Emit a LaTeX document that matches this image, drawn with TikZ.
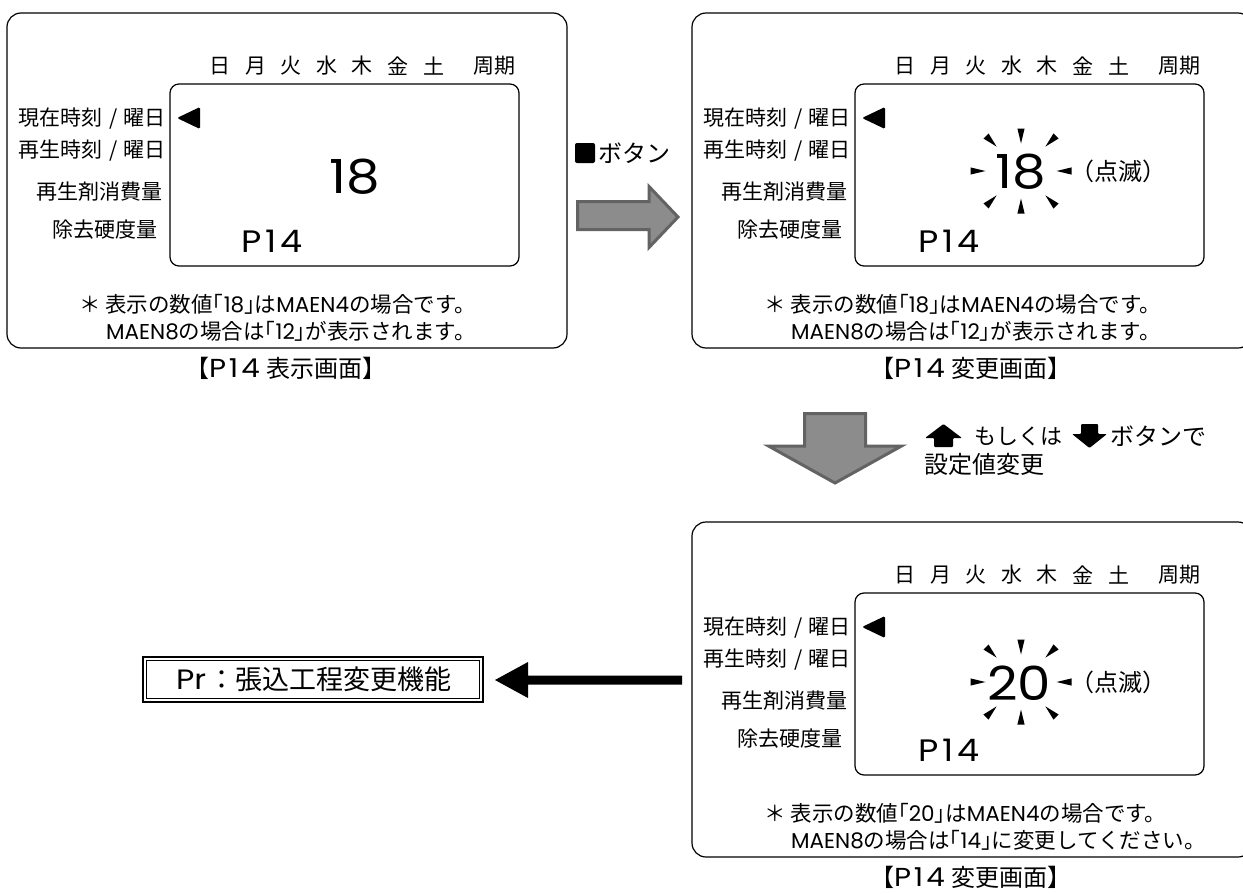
\documentclass[tikz,border=0pt]{standalone}
\usepackage{graphicx}
\usepackage{fontspec}
\setmainfont{Noto Sans CJK JP}
\newfontfamily\lat{Poppins}
\definecolor{arrowfill}{HTML}{8C8C8C}
\definecolor{arrowedge}{HTML}{636363}
\newcommand\latone{\makebox[0.52em]{1}}
\newcommand\wlat[2]{{\fontsize{#1}{#1}\lat\scalebox{1.13}[1]{#2}}}
\tikzset{
  panel/.style={draw, line width=1.2pt, rounded corners=14pt},
  screen/.style={draw, line width=1.2pt, rounded corners=9pt},
  lbl/.style={anchor=east, inner sep=0pt, font=\fontsize{21}{21}\selectfont},
  daylbl/.style={inner sep=0pt, font=\fontsize{21}{21}\selectfont},
  notetext/.style={anchor=west, inner sep=0pt, font=\fontsize{21.5}{21.5}\selectfont},
  captext/.style={inner sep=0pt, font=\fontsize{24}{24}\selectfont},
  bignum/.style={inner sep=0pt},
  pnum/.style={inner sep=0pt},
  sidetext/.style={inner sep=0pt, font=\fontsize{24}{24}\selectfont},
  blinktext/.style={inner sep=0pt, font=\fontsize{24}{24}\selectfont},
  grayarrow/.style={fill=arrowfill, draw=arrowedge, line width=3pt, line join=miter},
}
\newcommand\slashsep{\hspace{0.3em}/\hspace{0.3em}}
\newcommand\lcdpanel[7]{% #1 prefix, #2 dx, #3 dy, #4 caption, #5 note1, #6 note2, #7 x of P14
\begin{scope}[shift={(#2,#3)}]
  \draw[panel] (7,13) rectangle (567,348);
  \draw[screen] (170,84) rectangle (519,266);
  \foreach \t [count=\i] in {日,月,火,水,木,金,土}
    \node[daylbl] (#1d\i) at ({184.3+35.6*\i},66) {\t};
  \node[daylbl] (#1dp) at (494,66) {周期};
  \node[lbl] (#1la) at (166,119) {現在時刻\slashsep 曜日};
  \node[lbl] (#1lb) at (166,151) {再生時刻\slashsep 曜日};
  \node[lbl] (#1lc) at (163,192) {再生剤消費量};
  \node[lbl] (#1ld) at (158,230) {除去硬度量};
  \fill[rounded corners=1.5pt] (177,118) -- (200,107) -- (200,129) -- cycle;
  \node[notetext] (#1n1) at (79,304) {#5};
  \node[notetext] (#1n2) at (106,331) {#6};
  \node[captext] (#1cap) at (286,368) {【\smash{\wlat{26}{P\latone 4}}\hspace{0.3em}#4】};
  \node[pnum] (#1p) at (#7,241) {\wlat{31}{P\latone 4}};
\end{scope}}
\newcommand\blinkrays[2]{%
  \foreach \a/\d in {0/43,45/42,90/35,135/42,180/43,225/42,270/35,315/42}
    \fill[shift={(#1,#2)}, rotate=\a] (\d+7.5,3.6) -- (\d+7.5,-3.6) -- (\d-7.5,0) -- cycle;}
\begin{document}
\begin{tikzpicture}[x=1pt,y=-1pt]
\useasboundingbox (0,0) rectangle (1243,894);
\fill[white] (0,0) rectangle (1243,894);

% Panel 1
\lcdpanel{p}{0}{0}{表示画面}{＊ 表示の数値｢{\lat 18}｣は{\lat MAEN4}の場合です。}{{\lat MAEN8}の場合は｢{\lat 12}｣が表示されます。}{272}
\node[bignum] (pnum) at (355,177) {\wlat{47}{18}};

% Panel 2
\lcdpanel{q}{685}{0}{変更画面}{＊ 表示の数値｢{\lat 18}｣は{\lat MAEN4}の場合です。}{{\lat MAEN8}の場合は｢{\lat 12}｣が表示されます。}{264}
\node[bignum] (qnum) at (1021,172) {\wlat{47}{18}};
\blinkrays{1021}{171}
\node[blinktext] (qblink) at (1118,171) {（点滅）};

% Panel 3
\lcdpanel{r}{685}{509}{変更画面}{＊ 表示の数値｢{\lat 20}｣は{\lat MAEN4}の場合です。}{{\lat MAEN8}の場合は｢{\lat 14}｣に変更してください。}{264}
\node[bignum] (rnum) at (1019,683) {\wlat{47}{20}};
\blinkrays{1021}{682}
\node[blinktext] (rblink) at (1118,682) {（点滅）};

% button label and right arrow
\fill[rounded corners=2pt] (575,143) rectangle (595,163);
\node[sidetext, anchor=west] (btn) at (598,153) {ボタン};
\draw[grayarrow] (577.5,201.5) -- (649,201.5) -- (649,186.5) -- (678,217) -- (649,247.5) -- (649,229.5) -- (577.5,229.5) -- cycle;

% down arrow and its text
\draw[grayarrow] (804.5,413.5) -- (865.5,413.5) -- (865.5,446) -- (901.5,446) -- (835,483) -- (768.5,446) -- (804.5,446) -- cycle;
\fill[rounded corners=1pt] (925,438) -- (943.5,424) -- (962,438) -- (953,438) -- (953,447) -- (934,447) -- (934,438) -- cycle;
\node[sidetext, anchor=west, font=\fontsize{22}{22}\selectfont] (t1) at (974,436) {もしくは};
\fill[rounded corners=1pt] (1081,424) -- (1098,424) -- (1098,434) -- (1107,434) -- (1089.5,448) -- (1072,434) -- (1081,434) -- cycle;
\node[sidetext, anchor=west] (t2) at (1110,436) {ボタンで};
\node[sidetext, anchor=west] (t3) at (924,464) {設定値変更};

% Pr box and black arrow
\draw[line width=1.4pt] (143,657) rectangle (483,702);
\draw[line width=0.8pt] (146.5,660.5) rectangle (479.5,698.5);
\node[inner sep=0pt, font=\fontsize{27}{27}\selectfont] (pr) at (314,679) {\wlat{28}{Pr}\hspace{0.1em}：張込工程変更機能};
\fill (682,675.5) -- (528,675.5) -- (528,662) -- (495,680) -- (528,698) -- (528,684.5) -- (682,684.5) -- cycle;
\end{tikzpicture}
\end{document}
